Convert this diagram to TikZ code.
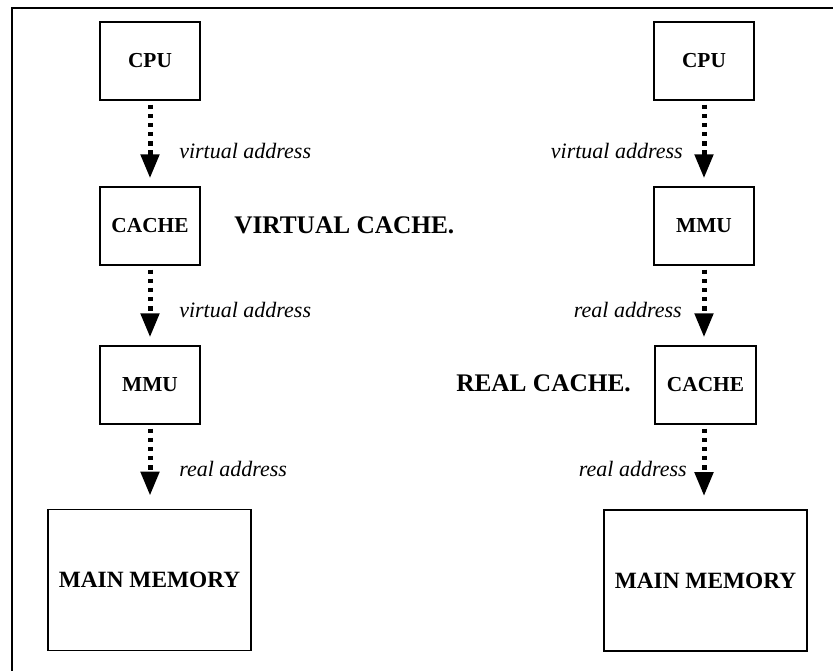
\documentclass[tikz,border=0pt]{standalone}
\usepackage{fontspec}
\setmainfont{Liberation Serif}
\usetikzlibrary{arrows.meta}
\tikzset{
  unit/.style={draw, line width=1.1pt, minimum width=75pt, minimum height=58.5pt, inner sep=0pt, font=\fontsize{16}{19}\selectfont\bfseries},
  memory/.style={draw, line width=1.1pt, minimum width=152pt, minimum height=105.5pt, inner sep=0pt, font=\fontsize{17.5}{21}\selectfont\bfseries},
  flow/.style={line width=3.75pt, dash pattern=on 3.4pt off 3.4pt, -{Triangle[width=13.5pt,length=18pt]}, shorten <=3pt},
  addr/.style={inner sep=0pt, font=\fontsize{16.5}{20}\selectfont\itshape},
  heading/.style={inner sep=0pt, font=\fontsize{19}{23}\selectfont\bfseries},
}
\begin{document}
\begin{tikzpicture}[x=0.75pt, y=-0.75pt]
\useasboundingbox (0,0) rectangle (833,671);
% frame (top and left edges)
\coordinate (ftl) at (12,8);
\coordinate (ftr) at (840,8);
\coordinate (fbl) at (12,680);
\draw[line width=2pt] (fbl) -- (ftl) -- (ftr);
% left column
\node[unit] (cpuL) at (150,61) {CPU};
\node[unit] (cacheL) at (150,226) {CACHE};
\node[unit] (mmuL) at (150,385) {MMU};
\node[memory] (memL) at (149.5,580) {MAIN MEMORY};
\draw[flow, shorten >=6pt] (cpuL.south) -- (cacheL.north);
\draw[flow, shorten >=6pt] (cacheL.south) -- (mmuL.north);
\draw[flow, shorten >=10pt] (mmuL.south) -- (memL.north -| mmuL.south);
\node[addr, anchor=west] (la1) at (179,151) {virtual address};
\node[addr, anchor=west] (la2) at (179,310) {virtual address};
\node[addr, anchor=west] (la3) at (179,469) {real address};
\node[heading, anchor=west] (hv) at (234,225) {VIRTUAL CACHE.};
% right column
\node[unit] (cpuR) at (704,61) {CPU};
\node[unit] (mmuR) at (704,226) {MMU};
\node[unit, minimum width=76pt] (cacheR) at (705.5,385) {CACHE};
\node[memory] (memR) at (705.5,580.5) {MAIN MEMORY};
\draw[flow, shorten >=6pt] (cpuR.south) -- (mmuR.north);
\draw[flow, shorten >=6pt] (mmuR.south) -- (mmuR.south |- cacheR.north);
\draw[flow, shorten >=10pt] (mmuR.south |- cacheR.south) -- (mmuR.south |- memR.north);
\node[addr, anchor=east] (ra1) at (683,151) {virtual address};
\node[addr, anchor=east] (ra2) at (682,310) {real address};
\node[addr, anchor=east] (ra3) at (687,469) {real address};
\node[heading, anchor=west] (hr) at (456,383) {REAL CACHE.};
\end{tikzpicture}
\end{document}
